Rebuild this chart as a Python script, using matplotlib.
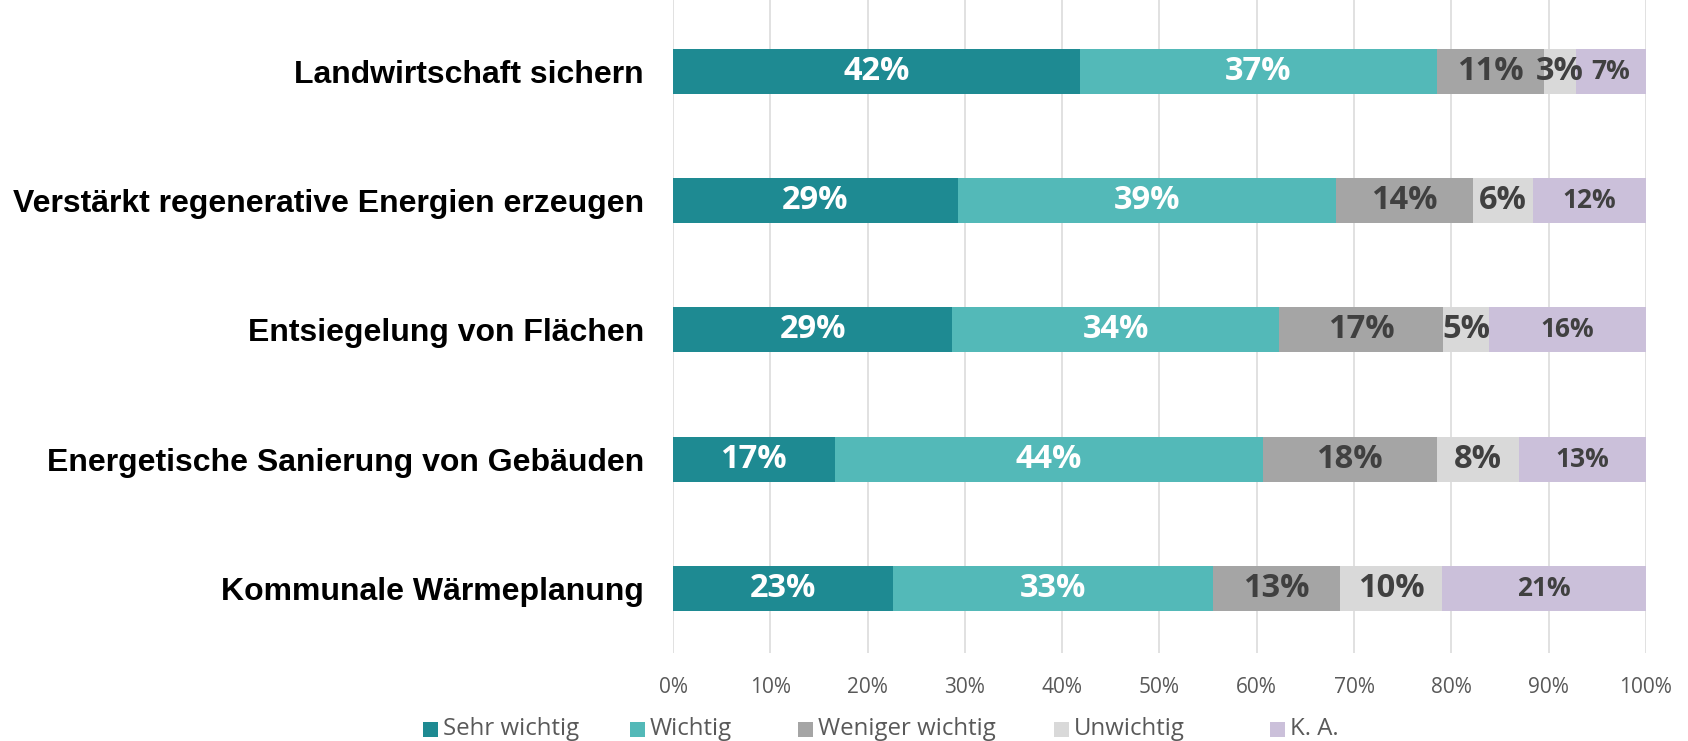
import matplotlib
matplotlib.use('Agg')
import matplotlib.pyplot as plt
from matplotlib.patches import Rectangle

categories = [
    "Landwirtschaft sichern",
    "Verstärkt regenerative Energien erzeugen",
    "Entsiegelung von Flächen",
    "Energetische Sanierung von Gebäuden",
    "Kommunale Wärmeplanung",
]
series = ["Sehr wichtig", "Wichtig", "Weniger wichtig", "Unwichtig", "K. A."]

sehr_wichtig = [41.8, 29.3, 28.7, 16.6, 22.6]
wichtig = [36.7, 38.8, 33.6, 44.0, 32.9]
weniger_wichtig = [11.0, 14.1, 16.8, 17.9, 13.1]
unwichtig = [3.3, 6.2, 4.8, 8.4, 10.4]
keine_angabe = [7.2, 11.6, 16.1, 13.1, 21.0]

values = [sehr_wichtig, wichtig, weniger_wichtig, unwichtig, keine_angabe]
colors = ['#1E8A92', '#53B9B8', '#A5A5A5', '#D9D9D9', '#CBC0DA']
label_colors = ['white', 'white', '#404040', '#404040', '#404040']
label_sizes = [23.5, 23.5, 23.5, 23.5, 19]

W, H = 1688, 741
fig = plt.figure(figsize=(W / 100, H / 100), dpi=100)
ax = fig.add_axes([0.3987, 0.1188, 0.5764, 0.8812])

ypos = list(range(len(categories)))
left = [0.0] * len(categories)
for vals, col, lc, ls in zip(values, colors, label_colors, label_sizes):
    bars = ax.barh(ypos, vals, left=left, height=0.348, color=col, zorder=3)
    for b, v in zip(bars, vals):
        ax.text(b.get_x() + b.get_width() / 2, b.get_y() + b.get_height() / 2,
                f"{v:.0f}%", ha='center', va='center', color=lc,
                fontsize=ls, fontweight='bold', family='Open Sans', zorder=4)
    left = [l + v for l, v in zip(left, vals)]

ax.set_xlim(0, 100)
ax.set_ylim(4.5, -0.55)
ax.set_xticks(range(0, 101, 10))
ax.set_xticklabels([f"{t}%" for t in range(0, 101, 10)], family='Open Sans',
                   fontsize=15, color='#595959')
ax.set_yticks(ypos)
ax.set_yticklabels(categories, family='Liberation Sans', fontweight='bold',
                   fontsize=23, color='black')
ax.tick_params(axis='x', length=0, pad=17)
ax.tick_params(axis='y', length=0, pad=21)
ax.grid(axis='x', color='#D9D9D9', linewidth=1.1, zorder=0)
for s in ax.spines.values():
    s.set_visible(False)

# legend placed by hand, spacing like the original is uneven
leg_x = [423, 630, 798, 1054, 1270]
leg_y = 729
sq = 15
for x, name, c in zip(leg_x, series, colors):
    fig.patches.append(Rectangle((x / W, (H - leg_y - sq / 2) / H), sq / W, sq / H,
                                 transform=fig.transFigure, facecolor=c,
                                 edgecolor='none'))
    fig.text((x + sq + 5) / W, (H - leg_y) / H, name, ha='left', va='center',
             family='Open Sans', fontsize=17.3, color='#595959')

fig.savefig('out.png', dpi=100)
